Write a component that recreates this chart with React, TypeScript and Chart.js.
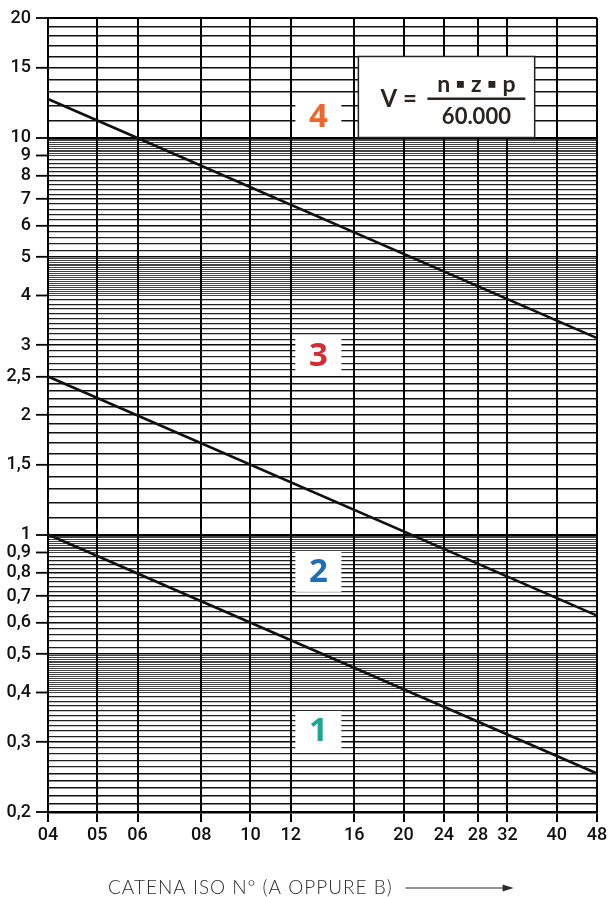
import { useEffect, useRef } from 'react';
import { Chart, registerables } from 'chart.js';

Chart.register(...registerables);

// Chain sizes (ISO number, pitch in 1/16")
const chainSizes = [4, 5, 6, 8, 10, 12, 16, 20, 24, 28, 32, 40, 48];
const chainLabels = ['04', '05', '06', '08', '10', '12', '16', '20', '24', '28', '32', '40', '48'];

// Labelled speed values (m/s) and their printed form
const speedTicks = [0.2, 0.3, 0.4, 0.5, 0.6, 0.7, 0.8, 0.9, 1, 1.5, 2, 2.5, 3, 4, 5, 6, 7, 8, 9, 10, 15, 20];
const speedTickLabels = ['0,2', '0,3', '0,4', '0,5', '0,6', '0,7', '0,8', '0,9', '1', '1,5', '2', '2,5', '3', '4', '5', '6', '7', '8', '9', '10', '15', '20'];

// Ruling of the log paper: [from, to, step]
const rulingBands: [number, number, number][] = [
  [0.2, 0.4, 0.01],
  [0.4, 0.5, 0.005],
  [0.5, 0.9, 0.02],
  [0.9, 1, 0.01],
  [1, 2, 0.1],
  [2, 4, 0.1],
  [4, 5, 0.05],
  [5, 9, 0.2],
  [9, 10, 0.1],
  [10, 20, 1],
];

// Boundary lines between the lubrication zones (chain 04 -> chain 48)
const lineChains = [4, 48];
const boundary12 = [1.0, 0.25];
const boundary23 = [2.5, 0.625];
const boundary34 = [12.5, 3.125];

// Zone markers
const zoneNames = ['1', '2', '3', '4'];
const zoneColors = ['#1ea596', '#1f6db5', '#d52b34', '#f0662a'];
const zoneSpeeds = [0.32, 0.805, 2.83, 11.3];
const zoneChain = 13.6;

// Formula panel extent (chain, speed)
const formulaChains = [16.3, 36.2];
const formulaSpeeds = [10, 16];

const AXIS_FONT = "Roboto, 'DejaVu Sans', sans-serif";

const ruling: { v: number; r: number }[] = [];
rulingBands.forEach(([a, b, s]) => {
  const n = Math.round((b - a) / s);
  for (let k = 0; k < n; k++) {
    const v = +(a + k * s).toFixed(4);
    ruling.push({ v, r: s / v });
  }
});
ruling.push({ v: 20, r: 1 });

const near = (a: number, b: number) => Math.abs(a - b) < 1e-6;
const labelIndex = (v: number) => speedTicks.findIndex((t) => near(t, v));
const rulingOf = (v: number) => ruling.find((g) => near(g.v, v));

function rulingStyle(v: number): [string, number] {
  if (near(v, 1) || near(v, 10) || near(v, 20) || near(v, 0.2)) return ['#000', 2];
  const g = rulingOf(v);
  const r = g ? g.r : 0.05;
  if (labelIndex(v) >= 0 && r >= 0.02) return ['#0a0a0a', 1.6];
  if (r >= 0.04) return ['#111', 1.6];
  if (r >= 0.02) return ['#222', 1.2];
  return ['#444', 1];
}

const overlayPlugin = {
  id: 'overlay',
  afterDatasetsDraw(chart: any) {
    const { ctx, chartArea, scales } = chart;
    const xs = scales.x;
    const ys = scales.y;
    ctx.save();

    // zone numbers on white patches
    zoneNames.forEach((name, i) => {
      const cx = xs.getPixelForValue(zoneChain);
      const cy = ys.getPixelForValue(zoneSpeeds[i]);
      ctx.fillStyle = '#fff';
      ctx.fillRect(cx - 23, cy - 20, 46, 40);
      ctx.fillStyle = zoneColors[i];
      ctx.font = "700 33px 'Open Sans', 'Liberation Sans', sans-serif";
      ctx.textAlign = 'center';
      ctx.textBaseline = 'middle';
      ctx.fillText(name, cx, cy + 1);
    });

    // formula panel
    const left = xs.getPixelForValue(formulaChains[0]);
    const right = xs.getPixelForValue(formulaChains[1]);
    const top = ys.getPixelForValue(formulaSpeeds[1]);
    const bottom = ys.getPixelForValue(formulaSpeeds[0]);
    ctx.fillStyle = '#fff';
    ctx.fillRect(left, top, right - left, bottom - top);
    ctx.strokeStyle = '#222';
    ctx.lineWidth = 1.5;
    ctx.strokeRect(left, top, right - left, bottom - top);

    const midY = top + 42;
    const fracCx = left + 118;
    ctx.fillStyle = '#2a2420';
    ctx.textBaseline = 'middle';
    ctx.textAlign = 'left';
    ctx.font = "700 24px Lato, 'Open Sans', sans-serif";
    ctx.fillText('V =', left + 22, midY + 1);
    ctx.fillRect(left + 69, midY - 1, 98, 2.5);
    ctx.textAlign = 'center';
    ctx.font = "700 23px Lato, 'Open Sans', sans-serif";
    ctx.fillText('n \u25AA z \u25AA p', fracCx, midY - 14);
    ctx.font = "700 22px Lato, 'Open Sans', sans-serif";
    ctx.fillText('60.000', fracCx, midY + 18);

    // axis title with arrow
    const tx = chartArea.left + 60;
    const ty = chartArea.bottom + 76;
    ctx.font = "300 19px Lato, 'Open Sans', sans-serif";
    (ctx as any).letterSpacing = '1px';
    ctx.fillStyle = '#2b2b2b';
    ctx.textAlign = 'left';
    ctx.textBaseline = 'middle';
    const title = 'CATENA ISO N° (A OPPURE B)';
    ctx.fillText(title, tx, ty);
    const w = ctx.measureText(title).width;
    (ctx as any).letterSpacing = '0px';
    const ax0 = tx + w + 13;
    const ax1 = ax0 + 108;
    ctx.strokeStyle = '#2b2b2b';
    ctx.lineWidth = 1.2;
    ctx.beginPath();
    ctx.moveTo(ax0, ty);
    ctx.lineTo(ax1 - 8, ty);
    ctx.stroke();
    ctx.beginPath();
    ctx.moveTo(ax1, ty);
    ctx.lineTo(ax1 - 11, ty - 3.5);
    ctx.lineTo(ax1 - 11, ty + 3.5);
    ctx.closePath();
    ctx.fill();

    ctx.restore();
  },
};

const toPoints = (ys: number[]) => lineChains.map((x, i) => ({ x, y: ys[i] }));

export default function App() {
  const canvasRef = useRef<HTMLCanvasElement>(null);

  useEffect(() => {
    const canvas = canvasRef.current;
    if (!canvas) return;
    const lineStyle = {
      borderColor: '#111',
      borderWidth: 2.6,
      pointRadius: 0,
      fill: false,
      tension: 0,
    };
    const chart = new Chart(canvas, {
      type: 'line',
      data: {
        datasets: [
          { label: '1-2', data: toPoints(boundary12), ...lineStyle },
          { label: '2-3', data: toPoints(boundary23), ...lineStyle },
          { label: '3-4', data: toPoints(boundary34), ...lineStyle },
        ],
      },
      options: {
        responsive: false,
        animation: false,
        devicePixelRatio: 1,
        layout: { padding: { top: 18, right: 14, left: 0, bottom: 0 } },
        plugins: {
          legend: { display: false },
          tooltip: { enabled: false },
          title: { display: false },
        },
        scales: {
          x: {
            type: 'logarithmic',
            min: 4,
            max: 48,
            afterBuildTicks: (scale: any) => {
              scale.ticks = chainSizes.map((v) => ({ value: v }));
            },
            afterFit: (scale: any) => {
              scale.height = 85;
            },
            ticks: {
              autoSkip: false,
              maxRotation: 0,
              minRotation: 0,
              padding: 3,
              color: '#111',
              font: { family: AXIS_FONT, size: 18, weight: '500' },
              callback: (_v: any, i: number) => chainLabels[i],
            },
            grid: {
              z: -1,
              color: '#000',
              lineWidth: 2,
              drawTicks: true,
              tickLength: 10,
              tickColor: '#000',
              tickWidth: 2,
            },
            border: { display: true, color: '#000', width: 2.5 },
          },
          y: {
            type: 'logarithmic',
            min: 0.2,
            max: 20,
            afterBuildTicks: (scale: any) => {
              scale.ticks = ruling.map((g) => ({ value: g.v }));
            },
            afterFit: (scale: any) => {
              scale.width = 48;
            },
            ticks: {
              autoSkip: false,
              padding: 5,
              color: '#111',
              font: { family: AXIS_FONT, size: 18, weight: '500' },
              callback: (v: any) => {
                const i = labelIndex(Number(v));
                return i >= 0 ? speedTickLabels[i] : '';
              },
            },
            grid: {
              z: -2,
              color: (c: any) => rulingStyle(c.tick ? c.tick.value : 1)[0],
              lineWidth: (c: any) => rulingStyle(c.tick ? c.tick.value : 1)[1],
              drawTicks: true,
              tickLength: 12,
              tickColor: (c: any) =>
                c.tick && labelIndex(c.tick.value) >= 0 ? '#000' : 'rgba(0,0,0,0)',
              tickWidth: 1.8,
            },
            border: { display: true, color: '#000', width: 2 },
          },
        },
      },
      plugins: [overlayPlugin],
    } as any);
    return () => chart.destroy();
  }, []);

  return (
    <div style={{ position: 'absolute', left: 0, top: 0, width: 611, height: 897, background: '#fff' }}>
      <canvas ref={canvasRef} width={611} height={897} style={{ display: 'block', width: 611, height: 897 }} />
    </div>
  );
}
